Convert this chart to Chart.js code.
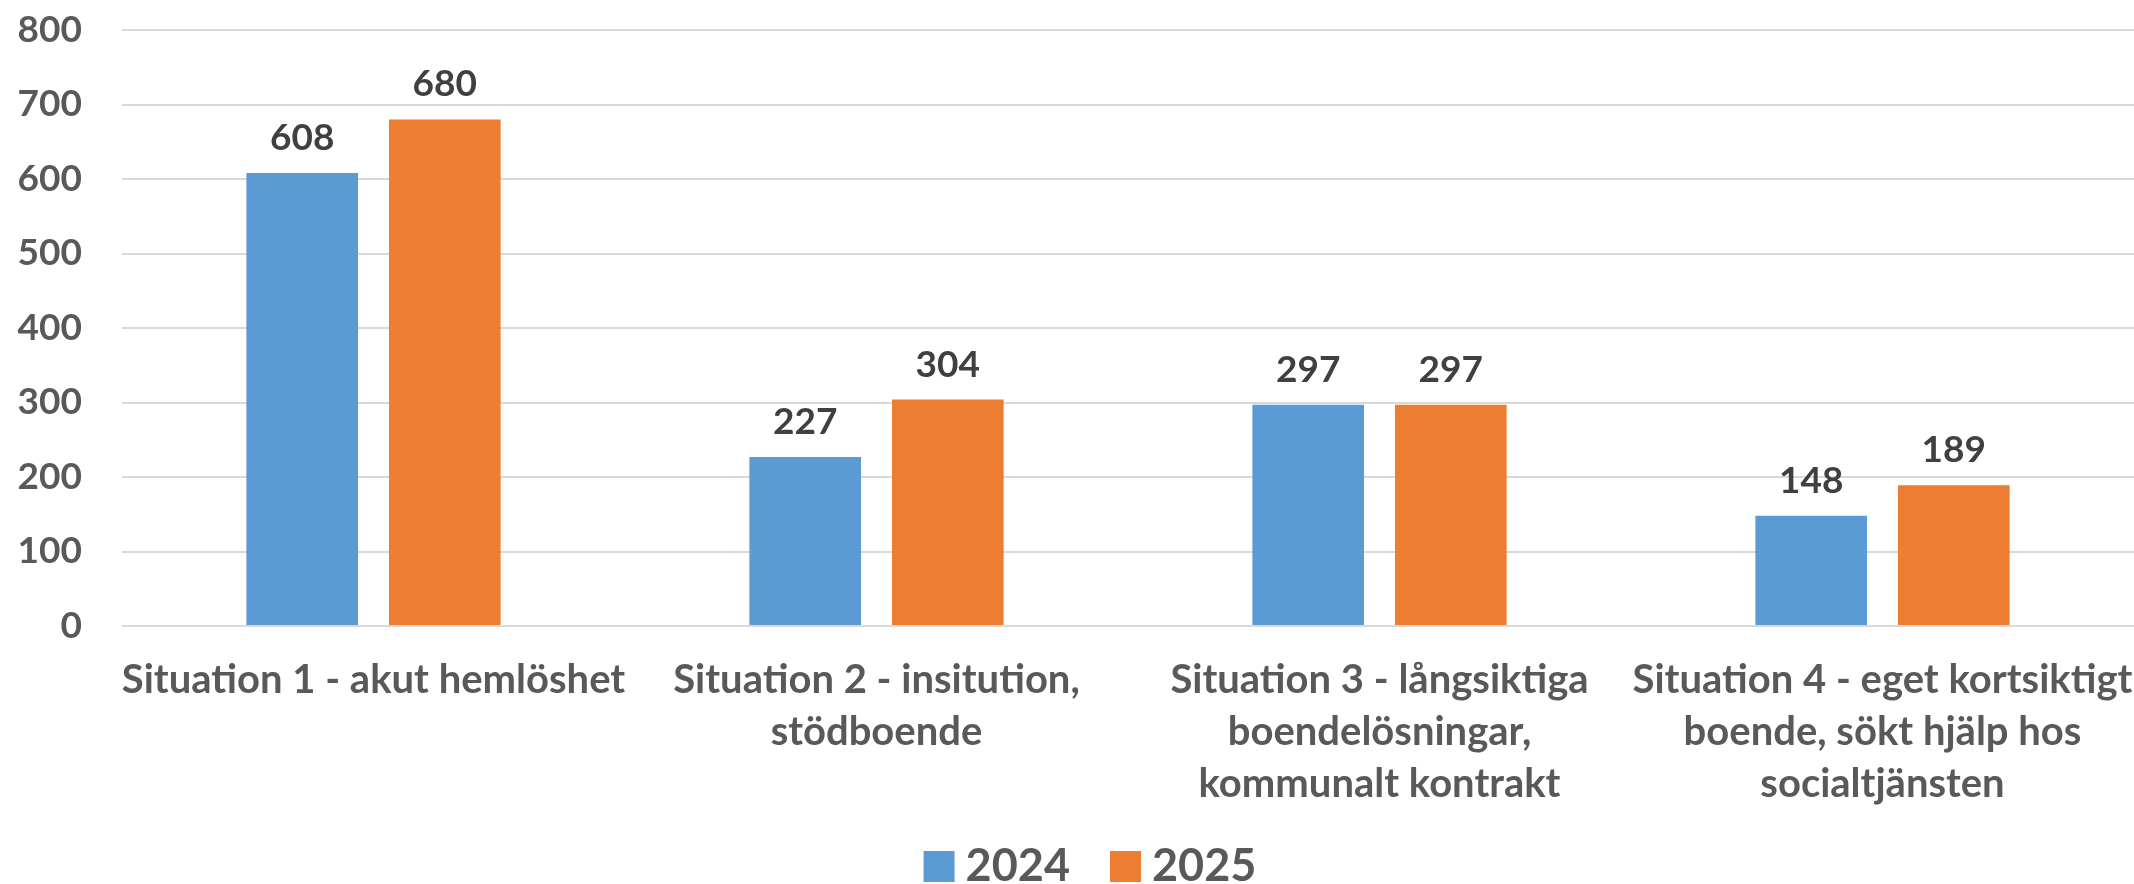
<!DOCTYPE html>
<html>
<head>
<meta charset="utf-8">
<script src="https://cdn.jsdelivr.net/npm/chart.js@4"></script>
<style>
  html, body { margin: 0; padding: 0; background: #ffffff; }
  #wrap { width: 2134px; height: 884px; }
</style>
</head>
<body>
<div id="wrap"><canvas id="situationChart" width="2134" height="884"></canvas></div>
<script>
// Situationer 2024 / 2025

const categories = [
    "Situation 1 - akut hemlöshet",
    ["Situation 2 - insitution,", "stödboende"],
    ["Situation 3 - långsiktiga", "boendelösningar,", "kommunalt kontrakt"],
    ["Situation 4 - eget kortsiktigt", "boende, sökt hjälp hos", "socialtjänsten"]
];
const values2024 = [608, 227, 297, 148];
const values2025 = [680, 304, 297, 189];
const yTicks = [0, 100, 200, 300, 400, 500, 600, 700, 800];

const FONT = "Lato, 'Open Sans', sans-serif";

// value labels above each bar
const barLabels = {
    id: "barLabels",
    afterDatasetsDraw(chart) {
        const c = chart.ctx;
        c.save();
        c.font = "bold 37px " + FONT;
        c.fillStyle = "#404040";
        c.textAlign = "center";
        c.textBaseline = "alphabetic";
        chart.data.datasets.forEach((ds, i) => {
            chart.getDatasetMeta(i).data.forEach((bar, j) => {
                c.fillText(String(ds.data[j]), bar.x, bar.y - 23);
            });
        });
        c.restore();
    }
};

// legend drawn under the axis labels
const bottomLegend = {
    id: "bottomLegend",
    afterDraw(chart) {
        const c = chart.ctx;
        const box = 31, gap = 11, spacing = 40;
        c.save();
        c.font = "bold 45px " + FONT;
        const items = chart.data.datasets.map(ds => ({
            text: ds.label, color: ds.backgroundColor, w: c.measureText(ds.label).width
        }));
        const total = items.reduce((s, it) => s + box + gap + it.w, 0) + spacing * (items.length - 1);
        let x = 1090 - total / 2;
        c.textBaseline = "alphabetic";
        c.textAlign = "left";
        items.forEach(it => {
            c.fillStyle = it.color;
            c.fillRect(x, 851, box, box);
            c.fillStyle = "#595959";
            c.fillText(it.text, x + box + gap, 881);
            x += box + gap + it.w + spacing;
        });
        c.restore();
    }
};

new Chart(document.getElementById("situationChart").getContext("2d"), {
    type: "bar",
    data: {
        labels: categories,
        datasets: [
            { label: "2024", data: values2024, backgroundColor: "#5B9BD5" },
            { label: "2025", data: values2025, backgroundColor: "#ED7D31" }
        ]
    },
    options: {
        responsive: false,
        animation: false,
        devicePixelRatio: 1,
        categoryPercentage: 0.567,
        barPercentage: 0.783,
        layout: { padding: { top: 30, right: 0, bottom: 0, left: 0 } },
        plugins: {
            legend: { display: false },
            tooltip: { enabled: false }
        },
        scales: {
            x: {
                afterFit(scale) {
                    scale.height = 258;
                    scale.paddingLeft = 0;
                    scale.paddingRight = 0;
                },
                grid: { display: false, drawTicks: false },
                border: { display: false },
                ticks: {
                    color: "#595959",
                    padding: 28,
                    maxRotation: 0,
                    autoSkip: false,
                    font: { family: FONT, size: 40, weight: "bold", lineHeight: 1.3 }
                }
            },
            y: {
                min: 0,
                max: 800,
                afterFit(scale) {
                    scale.width = 122;
                    scale.paddingTop = 0;
                    scale.paddingBottom = 0;
                },
                afterBuildTicks(scale) { scale.ticks = yTicks.map(v => ({ value: v })); },
                grid: { color: "#d9d9d9", lineWidth: 2, drawTicks: false },
                border: { display: false },
                ticks: {
                    color: "#595959",
                    padding: 40,
                    font: { family: FONT, size: 37, weight: "bold" }
                }
            }
        }
    },
    plugins: [barLabels, bottomLegend]
});
</script>
</body>
</html>
